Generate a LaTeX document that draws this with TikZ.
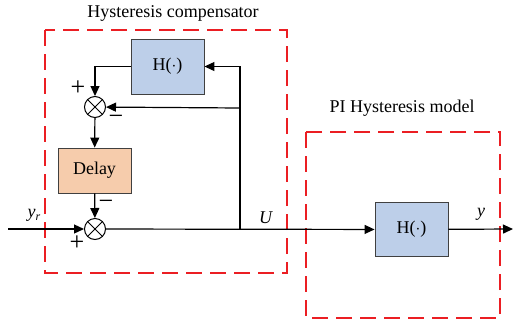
\documentclass[tikz,border=0pt]{standalone}
\usepackage{fontspec}
\setmainfont{Liberation Serif}
\usetikzlibrary{arrows.meta}
\definecolor{hblue}{RGB}{189,207,233}
\definecolor{peach}{RGB}{246,204,172}
\definecolor{dred}{RGB}{235,30,35}
\tikzset{
  blockbox/.style={draw=black!75,line width=0.9pt,minimum width=73pt,minimum height=55pt,inner sep=0pt,font=\fontsize{18}{20}\selectfont},
  sumnode/.style={draw,circle,line width=1pt,minimum size=21pt,inner sep=0pt,
    path picture={\draw[line width=1pt] (path picture bounding box.north west)--(path picture bounding box.south east) (path picture bounding box.north east)--(path picture bounding box.south west);}},
  conn/.style={line width=1.2pt,-{Triangle[length=10pt,width=9pt]}},
  dbox/.style={draw=dred,line width=1.3pt,dash pattern=on 16pt off 8pt},
  lbl/.style={font=\fontsize{18}{20}\selectfont,inner sep=0pt},
  sgn/.style={font=\fontsize{26}{28}\selectfont,inner sep=0pt}
}
\begin{document}
\begin{tikzpicture}[x=1pt,y=-1pt]
\useasboundingbox (0,0) rectangle (513,322);
\draw[dbox] (45,30) rectangle (287,273);
\draw[dbox] (306,132) rectangle (500,318);
\node[lbl] (t1) at (173,13) {Hysteresis compensator};
\node[lbl] (t2) at (402,108) {PI Hysteresis model};
\node[blockbox,fill=hblue] (hc) at (167.5,66.5) {H($\cdot$)};
\node[blockbox,fill=peach,minimum height=45pt] (delay) at (94.5,170.5) {Delay};
\node[blockbox,fill=hblue,minimum height=54pt] (hm) at (411.5,229.5) {H($\cdot$)};
\node[sumnode] (s1) at (95,107) {};
\node[sumnode] (s2) at (95,229) {};
\coordinate (in) at (8,229);
\coordinate (br) at (240,229);
\coordinate (b2) at (240,108);
\coordinate (out) at (513,229);
\draw[conn] (in) -- (s2);
\draw[conn] (s2) -- (hm);
\draw[conn] (br) |- (hc.east);
\draw[conn] (b2) -- (s1);
\draw[conn] (hc.west) -| (s1.north);
\draw[conn] (s1) -- (delay);
\draw[conn] (delay) -- (s2);
\draw[conn] (hm) -- (out);
\node[sgn] (p1) at (78,88) {+};
\node[sgn] (m1) at (116,120) {\textminus};
\node[sgn] (m2) at (106,205) {\textminus};
\node[sgn] (p2) at (77,243) {+};
\node[lbl] (yr) at (34,215) {\textit{y}\raisebox{-0.35ex}{\fontsize{12}{14}\selectfont\itshape r}};
\node[lbl] (U) at (266,218) {\textit{U}};
\node[lbl] (y) at (481,214) {\textit{y}};
\end{tikzpicture}
\end{document}
